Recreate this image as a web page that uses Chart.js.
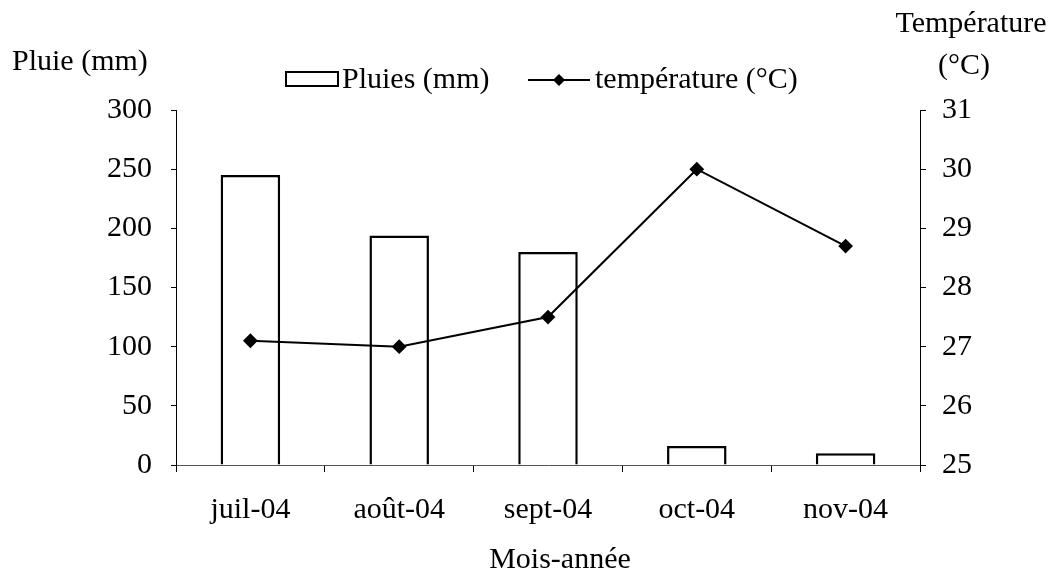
<!DOCTYPE html>
<html>
<head>
<meta charset="utf-8">
<script src="https://cdn.jsdelivr.net/npm/chart.js@4.4.1/dist/chart.umd.min.js"></script>
<style>
  html, body { margin: 0; padding: 0; background: #fff; }
  #wrap { width: 1057px; height: 578px; }
</style>
</head>
<body>
<div id="wrap"><canvas id="chart" width="1057" height="578"></canvas></div>
<script>
// values
const months = ["juil-04", "août-04", "sept-04", "oct-04", "nov-04"];
const rain = [245, 194, 180, 16, 10];
const temperature = [27.1, 27.0, 27.5, 30.0, 28.7];
const rainTicks = [0, 50, 100, 150, 200, 250, 300];
const tempTicks = [25, 26, 27, 28, 29, 30, 31];

const FONT = "'Liberation Serif', 'DejaVu Serif', serif";
const SIZE = 30;

// titles + legend drawn on top of the chart
const extras = {
  id: "extras",
  afterDraw(chart) {
    const c = chart.ctx;
    c.save();
    c.fillStyle = "#000";
    c.font = SIZE + "px " + FONT;
    c.textBaseline = "middle";
    c.textAlign = "left";
    c.fillText("Pluie (mm)", 12, 62);
    c.textAlign = "center";
    c.fillText("Température", 971, 24);
    c.fillText("(°C)", 964, 66);
    c.fillText("Mois-année", 560, 560);

    // legend
    c.textAlign = "left";
    c.strokeStyle = "#000";
    c.lineWidth = 2;
    c.strokeRect(286, 72, 52, 14);
    c.fillText("Pluies (mm)", 342, 80);
    c.beginPath();
    c.moveTo(528, 80);
    c.lineTo(590, 80);
    c.stroke();
    c.beginPath();
    c.moveTo(559, 74); c.lineTo(565, 80); c.lineTo(559, 86); c.lineTo(553, 80);
    c.closePath();
    c.fill();
    c.fillText("température (°C)", 595, 80);
    c.restore();
  }
};

new Chart(document.getElementById("chart"), {
  type: "bar",
  data: {
    labels: months,
    datasets: [
      {
        type: "line",
        label: "température (°C)",
        data: temperature,
        yAxisID: "yT",
        borderColor: "#000",
        backgroundColor: "#000",
        borderWidth: 2,
        pointStyle: "rectRot",
        pointRadius: 6,
        tension: 0,
        order: 0
      },
      {
        label: "Pluies (mm)",
        data: rain,
        yAxisID: "yR",
        backgroundColor: "#fff",
        borderColor: "#000",
        borderWidth: 2.5,
        barPercentage: 0.4,
        categoryPercentage: 1.0,
        order: 1
      }
    ]
  },
  options: {
    responsive: false,
    animation: false,
    layout: { padding: { left: 0, right: 0, top: 110, bottom: 0 } },
    plugins: { legend: { display: false }, tooltip: { enabled: false } },
    scales: {
      x: {
        grid: { drawOnChartArea: false, drawTicks: true, tickLength: 7, color: "#000", offset: true },
        border: { display: true, color: "#555", width: 1, dash: [3, 4] },
        ticks: { color: "#000", font: { family: FONT, size: SIZE }, padding: 20 },
        afterFit(scale) { scale.height = 113; }
      },
      yR: {
        position: "left",
        min: 0, max: 300,
        afterBuildTicks(scale) { scale.ticks = rainTicks.map(v => ({ value: v })); },
        grid: { drawOnChartArea: false, drawTicks: true, tickLength: 5, color: "#000" },
        border: { display: true, color: "#000", width: 1 },
        ticks: { color: "#000", font: { family: FONT, size: SIZE }, padding: 19 },
        afterFit(scale) { scale.width = 176; }
      },
      yT: {
        position: "right",
        min: 25, max: 31,
        afterBuildTicks(scale) { scale.ticks = tempTicks.map(v => ({ value: v })); },
        grid: { drawOnChartArea: false, drawTicks: true, tickLength: 6, color: "#000" },
        border: { display: true, color: "#000", width: 1 },
        ticks: { color: "#000", font: { family: FONT, size: SIZE }, padding: 16 },
        afterFit(scale) { scale.width = 137; }
      }
    }
  },
  plugins: [extras]
});
</script>
</body>
</html>
